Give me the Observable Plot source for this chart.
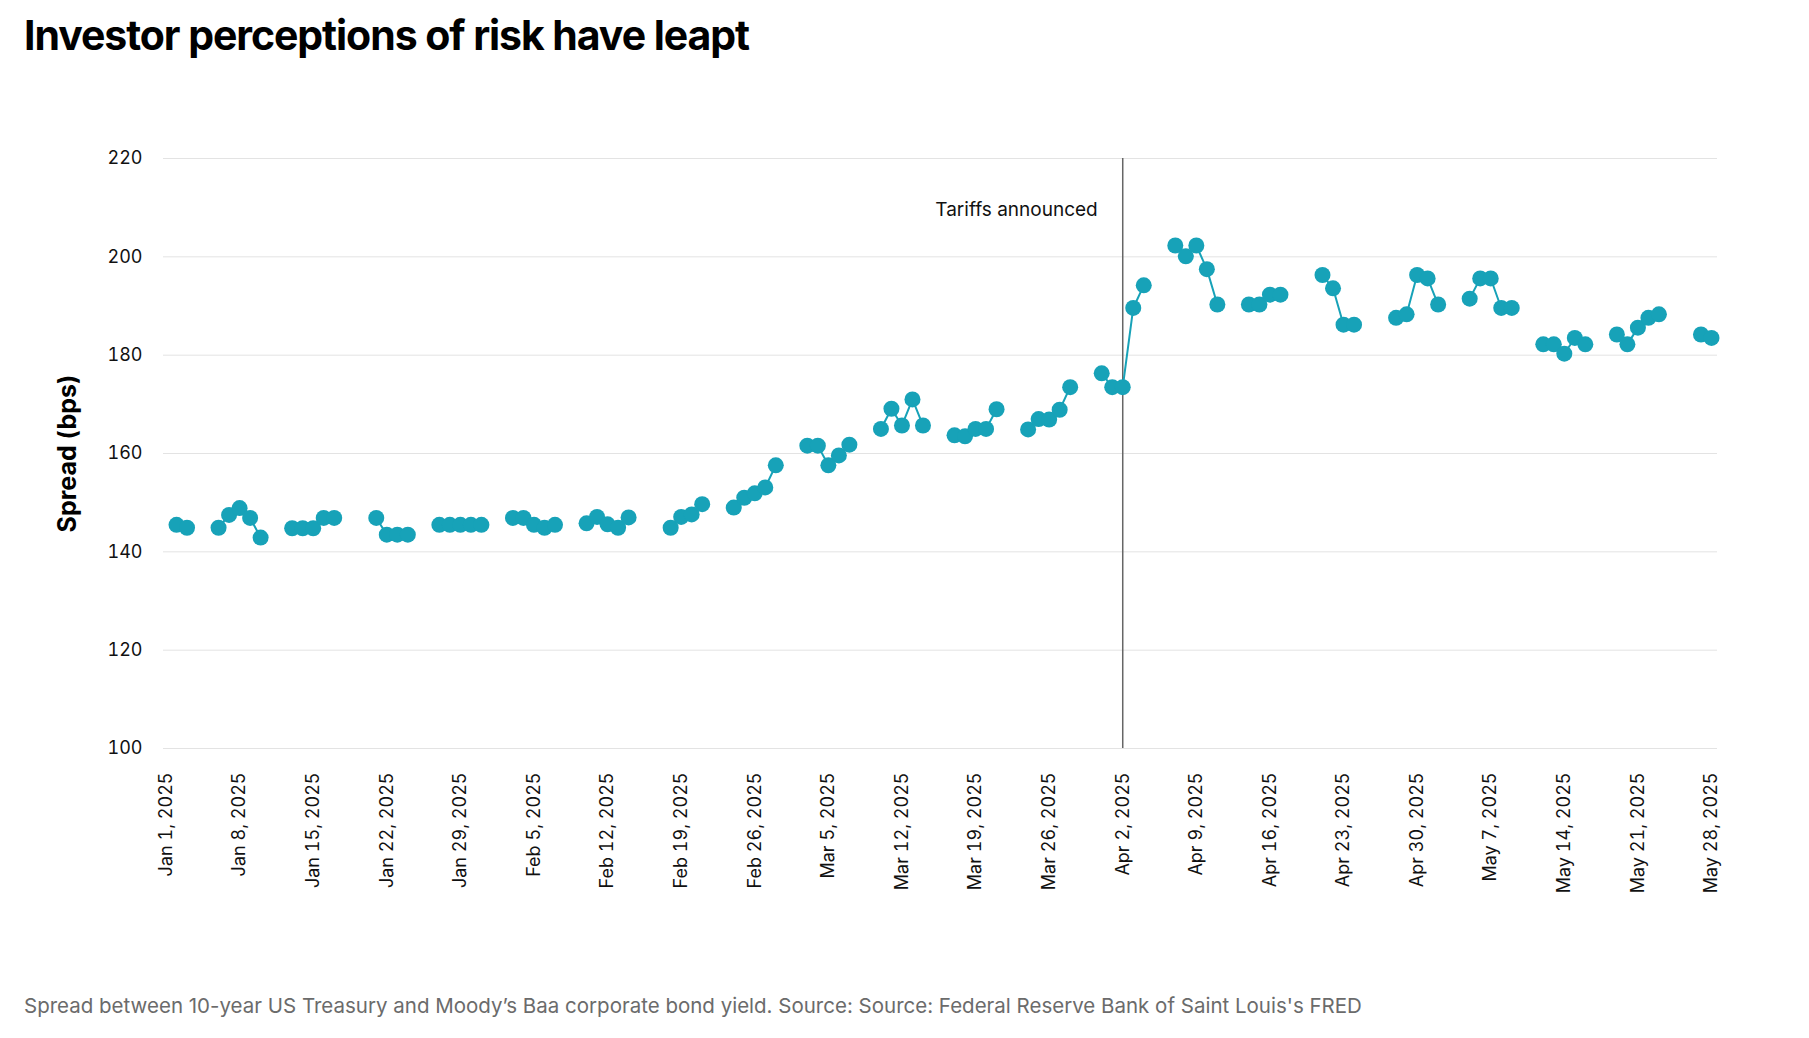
<!DOCTYPE html>
<html>
<head>
<meta charset="utf-8">
<script src="https://cdn.jsdelivr.net/npm/d3@7"></script>
<script src="https://cdn.jsdelivr.net/npm/@observablehq/plot@0.6"></script>
<style>
  html, body { margin: 0; padding: 0; background: #fff; }
  #wrap { position: relative; width: 1809px; height: 1038px; font-family: Inter, "Noto Sans", sans-serif; }
  #title { position: absolute; left: 24px; top: 15px; margin: 0; font-size: 41px; line-height: 41px; font-weight: 700; letter-spacing: -0.026em; color: #000; white-space: nowrap; }
  #chart { position: absolute; left: 0; top: 80px; }
  #caption { position: absolute; left: 24px; top: 996px; font-size: 20.5px; line-height: 20px; color: #6b6b6b; white-space: nowrap; }
</style>
</head>
<body>
<div id="wrap">
  <h1 id="title">Investor perceptions of risk have leapt</h1>
  <div id="chart"></div>
  <div id="caption">Spread between 10-year US Treasury and Moody’s Baa corporate bond yield. Source: Source: Federal Reserve Bank of Saint Louis's FRED</div>
</div>
<script>
// Trading dates and spread values (bps)
const dates = [
  "2025-01-02","2025-01-03","2025-01-06","2025-01-07","2025-01-08","2025-01-09","2025-01-10",
  "2025-01-13","2025-01-14","2025-01-15","2025-01-16","2025-01-17",
  "2025-01-21","2025-01-22","2025-01-23","2025-01-24",
  "2025-01-27","2025-01-28","2025-01-29","2025-01-30","2025-01-31",
  "2025-02-03","2025-02-04","2025-02-05","2025-02-06","2025-02-07",
  "2025-02-10","2025-02-11","2025-02-12","2025-02-13","2025-02-14",
  "2025-02-18","2025-02-19","2025-02-20","2025-02-21",
  "2025-02-24","2025-02-25","2025-02-26","2025-02-27","2025-02-28",
  "2025-03-03","2025-03-04","2025-03-05","2025-03-06","2025-03-07",
  "2025-03-10","2025-03-11","2025-03-12","2025-03-13","2025-03-14",
  "2025-03-17","2025-03-18","2025-03-19","2025-03-20","2025-03-21",
  "2025-03-24","2025-03-25","2025-03-26","2025-03-27","2025-03-28",
  "2025-03-31","2025-04-01","2025-04-02","2025-04-03","2025-04-04",
  "2025-04-07","2025-04-08","2025-04-09","2025-04-10","2025-04-11",
  "2025-04-14","2025-04-15","2025-04-16","2025-04-17",
  "2025-04-21","2025-04-22","2025-04-23","2025-04-24",
  "2025-04-28","2025-04-29","2025-04-30","2025-05-01","2025-05-02",
  "2025-05-05","2025-05-06","2025-05-07","2025-05-08","2025-05-09",
  "2025-05-12","2025-05-13","2025-05-14","2025-05-15","2025-05-16",
  "2025-05-19","2025-05-20","2025-05-21","2025-05-22","2025-05-23",
  "2025-05-27","2025-05-28"
];
const spread = [
  145.5,144.9,144.9,147.5,148.9,146.9,142.9,
  144.8,144.8,144.8,146.9,146.9,
  146.9,143.5,143.5,143.5,
  145.5,145.5,145.5,145.5,145.5,
  146.9,146.9,145.5,144.9,145.5,
  145.8,147.1,145.6,144.9,147.0,
  144.9,147.1,147.6,149.7,
  149.0,151.0,151.9,153.1,157.6,
  161.6,161.6,157.6,159.6,161.8,
  165.0,169.1,165.7,171.0,165.7,
  163.7,163.5,165.0,165.0,169.0,
  164.9,167.0,166.9,168.9,173.5,
  176.3,173.5,173.5,189.6,194.2,
  202.3,200.1,202.3,197.5,190.3,
  190.3,190.3,192.3,192.3,
  196.3,193.6,186.2,186.2,
  187.6,188.3,196.3,195.6,190.3,
  191.5,195.6,195.6,189.6,189.6,
  182.2,182.2,180.3,183.5,182.2,
  184.2,182.2,185.6,187.6,188.3,
  184.2,183.5
];
const xTickDates = [
  "2025-01-01","2025-01-08","2025-01-15","2025-01-22","2025-01-29","2025-02-05",
  "2025-02-12","2025-02-19","2025-02-26","2025-03-05","2025-03-12","2025-03-19",
  "2025-03-26","2025-04-02","2025-04-09","2025-04-16","2025-04-23","2025-04-30",
  "2025-05-07","2025-05-14","2025-05-21","2025-05-28"
];
const yTicks = [100, 120, 140, 160, 180, 200, 220];
const xDomain = ["2025-01-01", "2025-05-28"];
const yDomain = [100, 220];
const eventDate = "2025-04-02";
const eventLabel = "Tariffs announced";
const eventLabelValue = 209.5;
const yLabel = "Spread (bps)";

const parse = d3.utcParse("%Y-%m-%d");
const DAY = 864e5;
// Build rows; a new segment starts whenever there is a gap of more than one day
let seg = 0;
const rows = dates.map((d, i) => {
  const date = parse(d);
  if (i > 0 && (date - parse(dates[i - 1])) > DAY * 1.5) seg++;
  return {date, value: spread[i], seg};
});

const teal = "#17a2b8";
const fmt = d3.utcFormat("%b %-d, %Y");

const chart = Plot.plot({
  width: 1809,
  height: 880,
  marginTop: 78,
  marginBottom: 212,
  marginLeft: 163,
  marginRight: 92,
  insetLeft: 2.5,
  insetRight: 6,
  style: {fontFamily: "Inter, 'Noto Sans', sans-serif", fontSize: "18px", color: "#111", background: "#fff"},
  x: {type: "utc", domain: xDomain.map(parse)},
  y: {domain: yDomain},
  marks: [
    Plot.gridY(yTicks, {stroke: "#e3e3e3", strokeOpacity: 1, strokeWidth: 1}),
    Plot.axisY(yTicks, {tickSize: 0, tickPadding: 21, fontSize: 18, label: null}),
    Plot.axisX(xTickDates.map(parse), {tickSize: 0, tickPadding: 24, tickRotate: -90, tickFormat: fmt, fontSize: 18, label: null}),
    Plot.ruleX([parse(eventDate)], {stroke: "#666", strokeWidth: 1.5}),
    Plot.text([eventLabel], {x: () => parse(eventDate), y: () => eventLabelValue, text: d => d, textAnchor: "end", dx: -25, fontSize: 19, fill: "#111"}),
    Plot.line(rows, {x: "date", y: "value", z: "seg", stroke: teal, strokeWidth: 2}),
    Plot.dot(rows, {x: "date", y: "value", r: 8, fill: teal, stroke: "none"}),
    Plot.text([yLabel], {frameAnchor: "left", textAnchor: "middle", dx: -96, rotate: -90, text: d => d, fontSize: 25, fontWeight: 700, fill: "#000"})
  ]
});
document.getElementById("chart").appendChild(chart);
</script>
</body>
</html>
